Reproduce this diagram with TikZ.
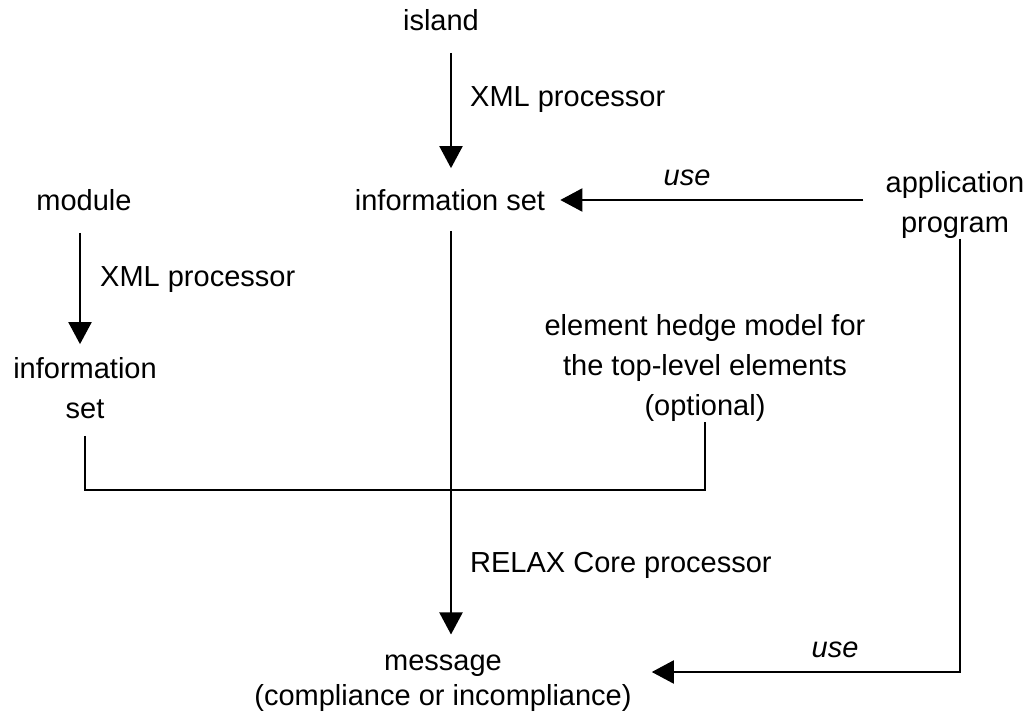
\documentclass[tikz,border=0pt]{standalone}
\usepackage{fontspec}
\setmainfont{Liberation Sans}
\usetikzlibrary{arrows.meta,positioning}

\newcommand{\dfont}{\fontsize{29}{40}\selectfont}

\begin{document}
\begin{tikzpicture}[x=1pt,y=-1pt,
    lbl/.style={font=\dfont, inner sep=0pt, align=center},
    note/.style={font=\dfont\itshape, inner sep=0pt},
    flow/.style={line width=2pt, -{Triangle[length=22pt,width=23pt]}},
    link/.style={line width=2pt}]
    \useasboundingbox (0,0) rectangle (1029,720);

    % labels
    \node[lbl] (island) at (441,20) {island};
    \node[lbl] (infoset) at (450,200) {information set};
    \node[lbl] (module) at (84,200) {module};
    \node[lbl] (app) at (955,205) {application\\program};
    \node[lbl] (leftset) at (85,388) {information\\set};
    \node[lbl] (hedge) at (705,368) {element hedge model for\\the top-level elements\\(optional)};
    \node[lbl, font=\fontsize{29}{35}\selectfont] (msg) at (443,683) {message\\(compliance or incompliance)};

    \node[lbl, anchor=west] (xmlA) at (470,100) {XML processor};
    \node[lbl, anchor=west] (xmlB) at (100,280) {XML processor};
    \node[lbl, anchor=west] (relax) at (470,565) {RELAX Core processor};
    \node[note] (useA) at (687,178) {use};
    \node[note] (useB) at (835,650) {use};

    % bends
    \coordinate (spine) at (451,0);
    \coordinate (join) at (0,490);
    \coordinate (back) at (960,672);

    % connectors
    \draw[flow, shorten <=22pt, shorten >=21pt] (island.south -| spine) -- (infoset.north -| spine);
    \draw[flow, shorten <=22pt, shorten >=15pt] (app.west |- infoset) -- (infoset.east);
    \draw[flow, shorten <=22pt, shorten >=13pt] ([xshift=-4pt]module.south) -- ([xshift=-4pt]module.south |- leftset.north);
    \draw[flow, shorten <=20pt, shorten >=20pt] (infoset.south -| spine) -- (msg.north -| spine);
    \draw[link, shorten <=17pt] (leftset.south) -- (leftset.south |- join) -- (hedge.south |- join) -- (hedge.south);
    \draw[flow, shorten >=20pt] (app.south -| back) -- (back) -- (msg.east |- back);
\end{tikzpicture}
\end{document}
